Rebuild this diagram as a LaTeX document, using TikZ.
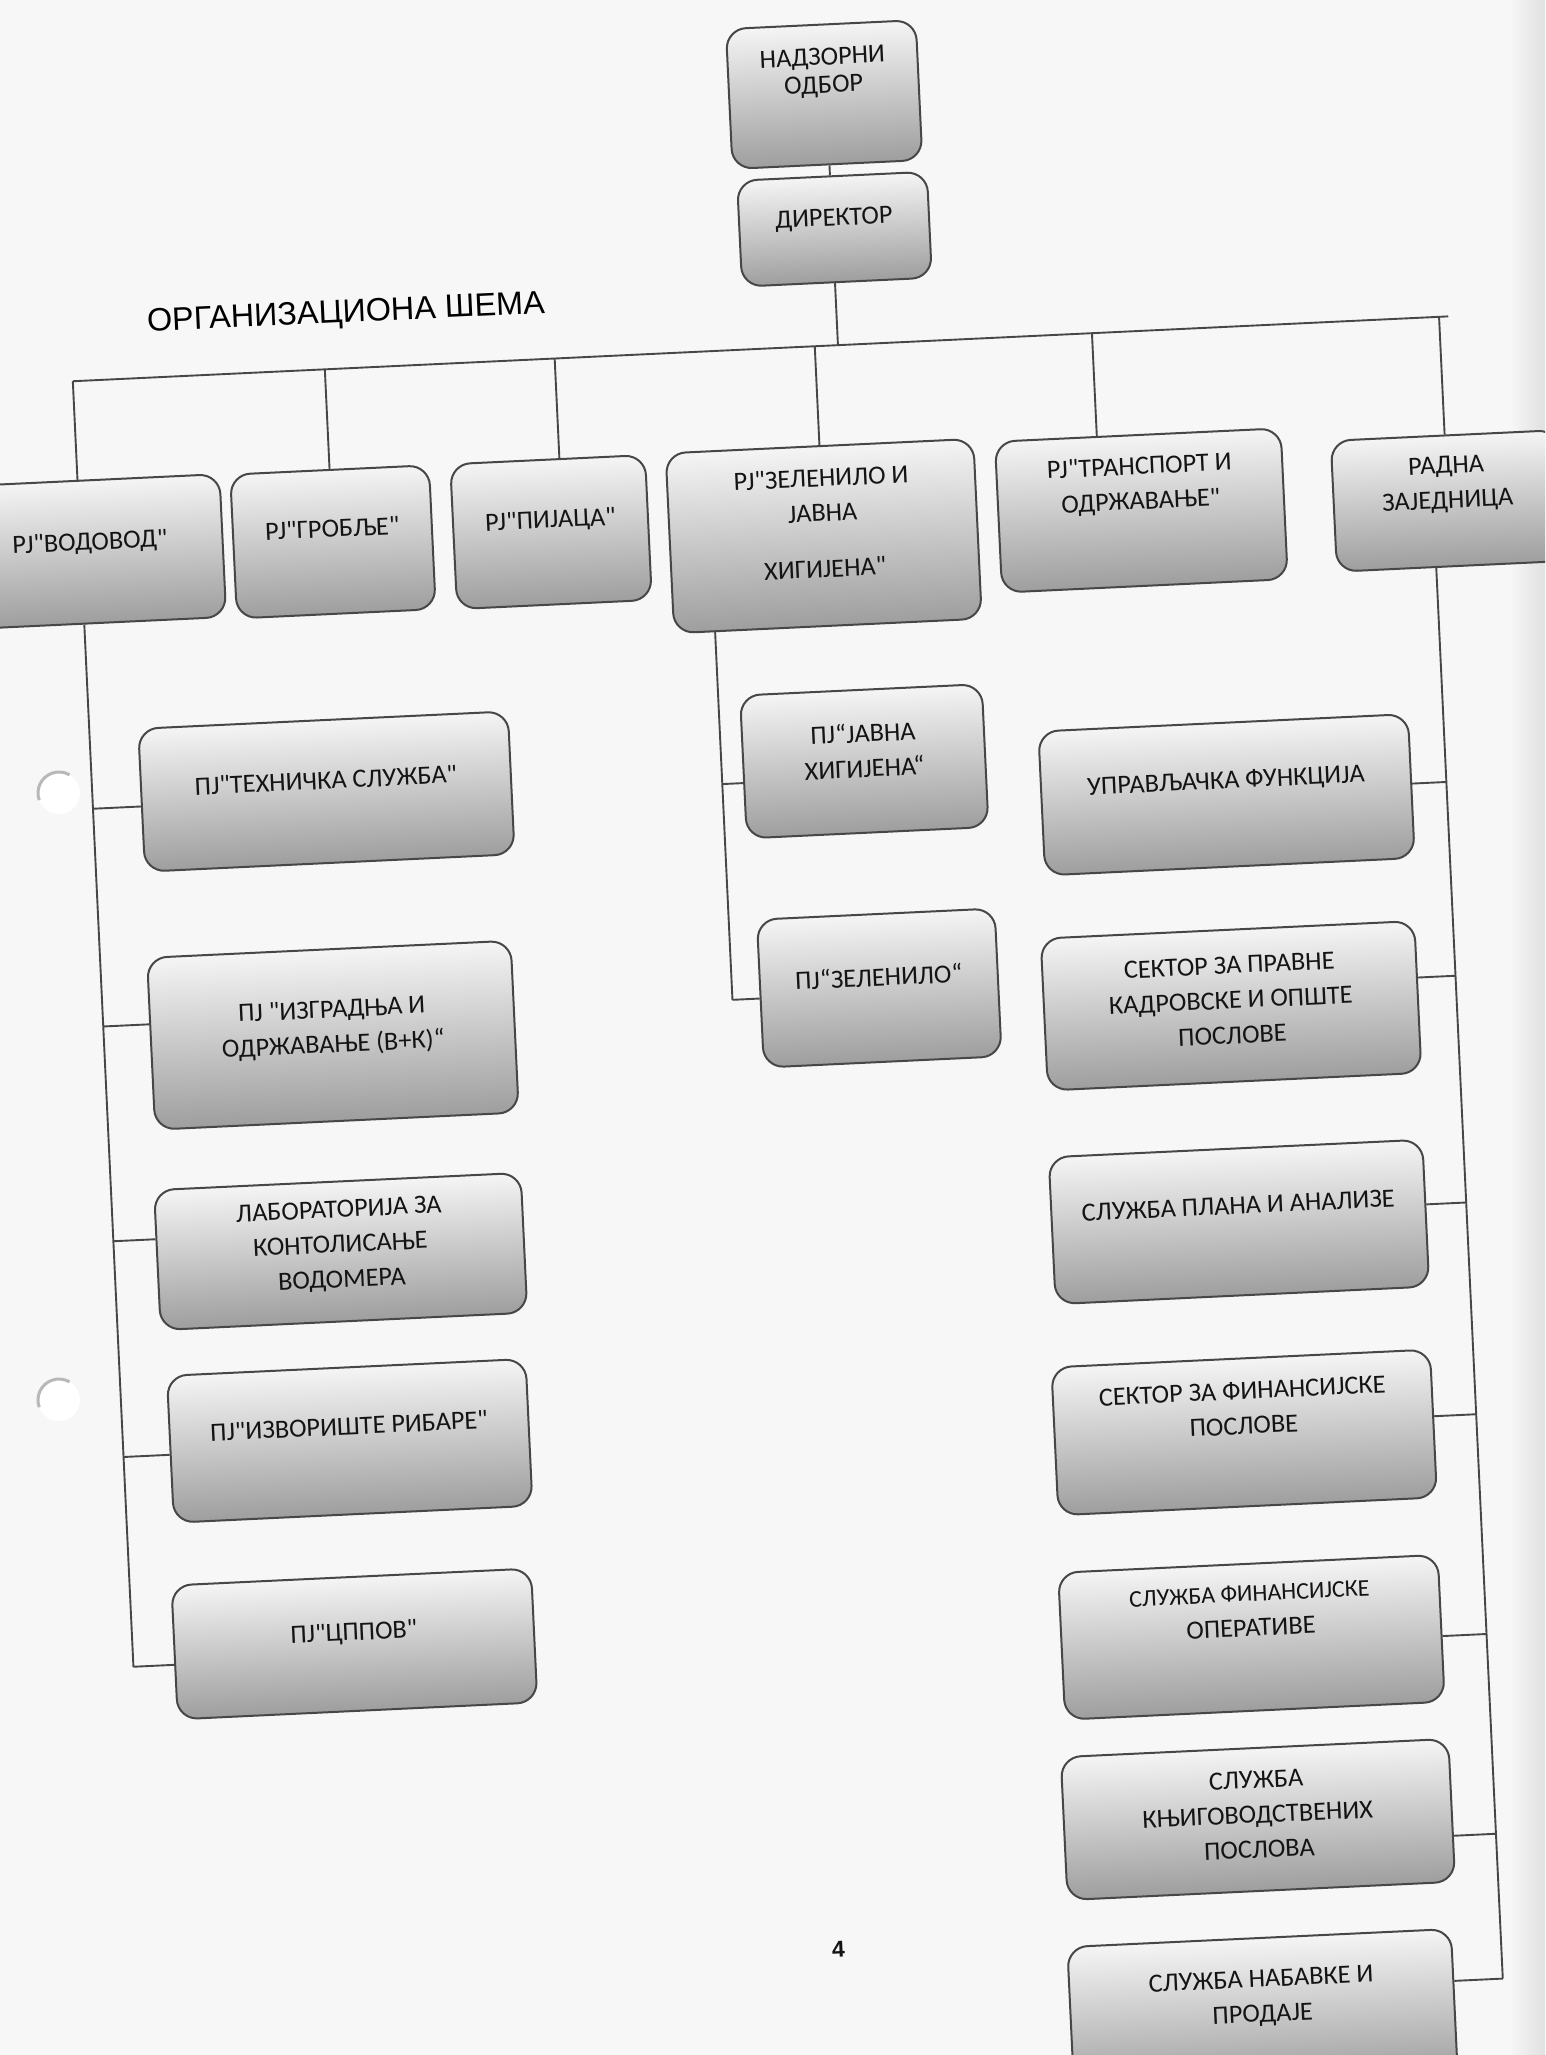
\documentclass[tikz,border=0pt]{standalone}
\usepackage{fontspec}
\newfontfamily\bxf{Carlito}
\newfontfamily\ttlf{Liberation Sans}
\definecolor{edgec}{HTML}{474747}
\definecolor{inkc}{HTML}{141414}
\definecolor{paper}{HTML}{F7F7F7}
\newcommand\mydn[1]{\rule[-#1]{0pt}{#1}}
\begin{document}
\begin{tikzpicture}[x=1pt,y=-1pt,
  box/.style={draw=edgec, line width=2pt, rounded corners=20pt,
    top color=black!4, bottom color=black!38, text=inkc,
    font=\bxf\fontsize{26.3}{35}\selectfont, align=center, inner sep=0pt},
  conn/.style={draw=edgec, line width=1.9pt},
  hole/.style={draw=black!28, line width=3pt}]
\useasboundingbox (0,0) rectangle (1545,2055);
\fill[paper] (0,0) rectangle (1545,2055);
\shade[left color=paper, right color=black!12] (1510,0) rectangle (1545,2055);
\clip (0,0) rectangle (1545,2055);
\begin{scope}[transform canvas={rotate around={2.7:(771.8,1027.4)}}]
% title and page number
\node[font=\ttlf\fontsize{32.4}{33}\selectfont, text=black, inner sep=0pt] (title) at (380,295) {ОРГАНИЗАЦИОНА ШЕМА};
\node[font=\ttlf\bfseries\fontsize{23}{23}\selectfont, text=inkc, inner sep=0pt] (pg) at (795,1951) {4};
% top
\node[box, minimum width=190pt, minimum height=140pt] (N) at (868,98) {НАДЗОРНИ\\[-7pt]ОДБОР\mydn{48pt}};
\node[box, minimum width=190pt, minimum height=106pt] (D) at (872,233) {ДИРЕКТОР\mydn{24pt}};
% level 1
\node[box, minimum width=265pt, minimum height=143pt] (V) at (113.6,520.2) {РЈ"ВОДОВОД"\mydn{21pt}};
\node[box, minimum width=199pt, minimum height=144pt] (G) at (356.3,521.7) {РЈ"ГРОБЉЕ"\mydn{27pt}};
\node[box, minimum width=195pt, minimum height=145pt] (P) at (574.6,522.2) {РЈ"ПИЈАЦА"\mydn{26pt}};
\node[box, minimum width=308pt, minimum height=180pt] (Z) at (846.8,539) {РЈ"ЗЕЛЕНИЛО И\\ЈАВНА\\[21pt]ХИГИЈЕНА"\mydn{26pt}};
\node[box, minimum width=286pt, minimum height=151pt] (T) at (1165.3,528.4) {РЈ"ТРАНСПОРТ И\\ОДРЖАВАЊЕ"\mydn{55pt}};
\node[box, minimum width=228pt, minimum height=131pt] (R) at (1471.8,533.3) {РАДНА\\ЗАЈЕДНИЦА\mydn{37pt}};
% left column
\node[box, minimum width=370pt, minimum height=143pt] (TS) at (338,770.8) {ПЈ"ТЕХНИЧКА СЛУЖБА"\mydn{23pt}};
\node[box, minimum width=364pt, minimum height=172pt] (IZ) at (333,1014.5) {ПЈ "ИЗГРАДЊА И\\ОДРЖАВАЊЕ (В+К)“\mydn{18pt}};
\node[box, minimum width=367pt, minimum height=140pt] (LAB) at (330.6,1230.9) {ЛАБОРАТОРИЈА ЗА\\КОНТОЛИСАЊЕ\\ВОДОМЕРА\mydn{15pt}};
\node[box, minimum width=359pt, minimum height=147pt] (IZV) at (330.7,1420.5) {ПЈ"ИЗВОРИШТЕ РИБАРЕ"\mydn{30pt}};
\node[box, minimum width=360pt, minimum height=134pt] (CP) at (325.8,1623.6) {ПЈ"ЦППОВ"\mydn{25pt}};
% centre column
\node[box, minimum width=242pt, minimum height=143pt] (ZJ) at (876.7,765.9) {ПЈ“ЈАВНА\\ХИГИЈЕНА“\mydn{22pt}};
\node[box, minimum width=238pt, minimum height=148pt] (ZZ) at (881,993.1) {ПЈ“ЗЕЛЕНИЛО“\mydn{23pt}};
% right column
\node[box, minimum width=370pt, minimum height=144pt] (UF) at (1237,816.4) {УПРАВЉАЧКА ФУНКЦИЈА\mydn{30pt}};
\node[box, minimum width=374pt, minimum height=152pt] (SP) at (1231.6,1027.4) {СЕКТОР ЗА ПРАВНЕ\\КАДРОВСКЕ И ОПШТЕ\\ПОСЛОВЕ\mydn{11pt}};
\node[box, minimum width=374pt, minimum height=147pt] (SPA) at (1229.3,1243.7) {СЛУЖБА ПЛАНА И АНАЛИЗЕ\mydn{33pt}};
\node[box, minimum width=379pt, minimum height=148pt] (SF) at (1224.6,1454.2) {СЕКТОР ЗА ФИНАНСИЈСКЕ\\ПОСЛОВЕ\mydn{49pt}};
\node[box, minimum width=380pt, minimum height=147pt] (SFO) at (1222.2,1659.2) {{\fontsize{24}{35}\selectfont СЛУЖБА ФИНАНСИЈСКЕ}\\ОПЕРАТИВЕ\mydn{53pt}};
\node[box, minimum width=388pt, minimum height=143pt] (SK) at (1220.1,1841.5) {СЛУЖБА\\КЊИГОВОДСТВЕНИХ\\ПОСЛОВА\mydn{10pt}};
\node[box, minimum width=384pt, minimum height=147pt] (SN) at (1215.7,2033.5) {СЛУЖБА НАБАВКЕ И\\ПРОДАЈЕ\mydn{31pt}};
% bus and trunks
\coordinate (busL) at (104,349);
\coordinate (busR) at (1481,349);
\coordinate (lt) at (104,1636);
\coordinate (mt) at (733.8,998);
\coordinate (rt) at (1457.2,2012);
\draw[conn] (busL) -- (busR);
\draw[conn] (870,0 |- N.south) -- (870,0 |- D.north);
\draw[conn] (870,0 |- D.south) -- (870,0 |- busL);
\draw[conn] (busL) -- (V.north -| busL);
\draw[conn] (G.north |- busL) -- (G.north);
\draw[conn] (586.4,0 |- busL) -- (586.4,0 |- P.north);
\draw[conn] (Z.north |- busL) -- (Z.north);
\draw[conn] (1124.3,0 |- busL) -- (1124.3,0 |- T.north);
\draw[conn] (R.north |- busR) -- (R.north);
% left trunk
\draw[conn] (V.south -| lt) -- (lt);
\draw[conn] (lt |- 0,777) -- (TS.west |- 0,777);
\draw[conn] (lt |- 0,995) -- (IZ.west |- 0,995);
\draw[conn] (lt |- 0,1210) -- (LAB.west |- 0,1210);
\draw[conn] (lt |- 0,1426) -- (IZV.west |- 0,1426);
\draw[conn] (lt) -- (CP.west |- lt);
% centre trunk
\draw[conn] (Z.south -| mt) -- (mt);
\draw[conn] (mt |- 0,782) -- (ZJ.west |- 0,782);
\draw[conn] (mt) -- (ZZ.west |- mt);
% right trunk
\draw[conn] (R.south -| rt) -- (rt);
\draw[conn] (UF.east |- 0,814) -- (rt |- 0,814);
\draw[conn] (SP.east |- 0,1008) -- (rt |- 0,1008);
\draw[conn] (SPA.east |- 0,1235) -- (rt |- 0,1235);
\draw[conn] (SF.east |- 0,1447) -- (rt |- 0,1447);
\draw[conn] (SFO.east |- 0,1667) -- (rt |- 0,1667);
\draw[conn] (SK.east |- 0,1867) -- (rt |- 0,1867);
\draw[conn] (SN.east |- rt) -- (rt);
\end{scope}
% punch holes
\fill[white] (59,793) circle[radius=21];
\draw[hole] (59,793) ++(160:21) arc[start angle=160, end angle=300, radius=21];
\fill[white] (59,1400) circle[radius=21];
\draw[hole] (59,1400) ++(160:21) arc[start angle=160, end angle=300, radius=21];
\end{tikzpicture}
\end{document}
